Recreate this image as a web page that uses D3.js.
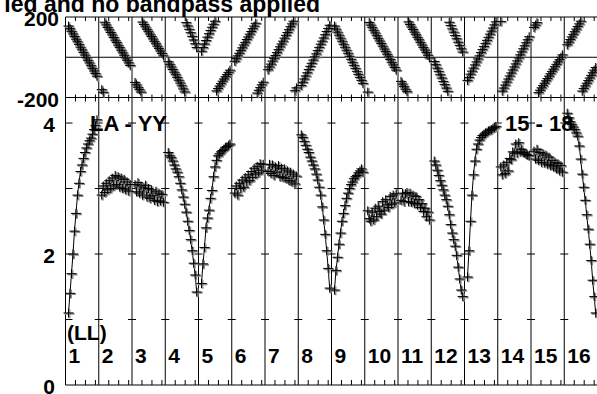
<!DOCTYPE html>
<html><head><meta charset="utf-8">
<script src="https://cdn.jsdelivr.net/npm/d3@7"></script>
<style>html,body{margin:0;padding:0;background:#fff;overflow:hidden}</style>
</head><body><svg id="c" width="597" height="394"></svg>
<script>
// ---- data ----
const channels = ["1","2","3","4","5","6","7","8","9","10","11","12","13","14","15","16"];
const times = [3.6,5.4,7.2,9.0,10.8,12.6,14.4,16.2,18.0,19.8,21.6,23.4,25.2,27.0,28.8,30.6,32.4,34.2,36.0,37.8];
const timeTicks = [12, 24, 36];
const ampTicks = [1, 2, 3, 4];
const ampTickLabels = [0, 2, 4];
const phaseTickLabels = [200, -200];
const titleText = "ied and no bandpass applied";
const baselineText = "LA - YY";
const sourceText = "15 - 18";
const polText = "(LL)";

const amp1 = [1.10,1.40,1.70,2.00,2.35,2.62,2.90,3.08,3.26,3.36,3.46,3.55,3.62,3.68,3.73,3.77,3.83,3.90,3.96,4.05];
const amp2 = [2.90,3.04,2.94,3.08,2.98,3.12,3.00,3.16,3.04,3.20,3.06,3.18,3.02,3.16,3.00,3.14,2.98,3.10,2.96,3.06];
const amp3 = [3.06,2.95,3.09,2.93,3.04,2.90,3.01,3.05,2.87,3.00,2.85,2.98,2.89,2.82,2.96,2.80,2.93,2.81,2.91,2.79];
const amp4 = [3.55,3.50,3.47,3.42,3.36,3.30,3.25,3.18,3.08,2.98,2.87,2.76,2.64,2.50,2.36,2.22,2.05,1.86,1.68,1.42];
const amp5 = [1.55,1.85,2.10,2.40,2.55,2.67,2.85,2.97,3.18,3.33,3.43,3.50,3.53,3.56,3.58,3.60,3.63,3.64,3.66,3.68];
const amp6 = [2.93,3.04,2.90,3.08,3.00,3.13,3.02,3.17,3.10,3.21,3.12,3.26,3.17,3.31,3.22,3.34,3.24,3.38,3.28,3.37];
const amp7 = [3.26,3.37,3.23,3.36,3.20,3.33,3.25,3.35,3.18,3.31,3.17,3.30,3.15,3.27,3.12,3.25,3.10,3.22,3.07,3.19];
const amp8 = [3.82,3.78,3.72,3.66,3.60,3.55,3.48,3.42,3.36,3.30,3.22,3.13,3.02,2.90,2.72,2.52,2.30,2.05,1.78,1.48];
const amp9 = [1.45,1.75,1.95,2.15,2.32,2.50,2.62,2.74,2.85,2.93,3.00,3.06,3.10,3.15,3.18,3.20,3.24,3.27,3.30,3.25];
const amp10 = [2.66,2.54,2.50,2.64,2.52,2.70,2.57,2.73,2.65,2.61,2.80,2.67,2.83,2.75,2.71,2.88,2.76,2.90,2.78,2.92];
const amp11 = [2.82,2.93,2.80,2.92,2.94,2.80,2.93,2.79,2.90,2.77,2.88,2.75,2.83,2.71,2.77,2.65,2.70,2.57,2.64,2.52];
const amp12 = [3.42,3.36,3.28,3.20,3.12,3.05,2.98,2.90,2.83,2.73,2.60,2.45,2.32,2.22,2.12,1.98,1.80,1.62,1.45,1.35];
const amp13 = [1.65,2.05,2.50,2.90,3.21,3.42,3.60,3.68,3.74,3.78,3.81,3.83,3.85,3.86,3.88,3.89,3.90,3.92,3.93,3.95];
const amp14 = [3.33,3.21,3.36,3.23,3.40,3.27,3.46,3.44,3.56,3.54,3.68,3.54,3.70,3.56,3.60,3.55,3.54,3.52,3.51,3.50];
const amp15 = [3.57,3.45,3.60,3.43,3.55,3.40,3.53,3.39,3.51,3.37,3.48,3.35,3.43,3.33,3.40,3.30,3.38,3.27,3.35,3.25];
const amp16 = [4.15,4.08,4.02,3.98,3.94,3.90,3.85,3.80,3.65,3.45,3.22,3.02,2.82,2.60,2.38,2.15,1.90,1.60,1.35,1.10];

const ph1 = [155,142,129,116,103,90,77,64,50,37,24,11,-2,-15,-28,-42,-55,-68,-81,-94];
const ph2 = [-161,-174,174,161,148,136,123,111,98,85,73,60,48,35,22,10,-3,-15,-28,-41];
const ph3 = [-125,-137,-149,-161,-173,175,163,151,139,127,115,103,91,79,67,55,43,31,19,7];
const ph4 = [-22,-35,-48,-61,-74,-87,-100,-114,-128,-142,-157,-172,172,156,139,122,104,86,67,48];
const ph5 = [30,48,66,83,100,117,133,149,164,179,-167,-155,-143,-131,-119,-108,-97,-86,-75,-64];
const ph6 = [-20,-7,7,20,34,47,61,74,88,101,115,128,142,155,169,-178,-164,-151,-137,-124];
const ph7 = [-62,-48,-34,-19,-5,9,23,38,52,66,80,95,109,123,137,152,166,179,-166,-152];
const ph8 = [-140,-124,-108,-93,-77,-61,-45,-30,-14,2,17,33,49,65,80,96,112,128,143,159];
const ph9 = [155,140,125,110,95,80,65,50,35,20,5,-10,-25,-40,-55,-70,-85,-100,-115,-130];
const ph10 = [-173,173,160,147,134,121,107,94,81,68,55,41,28,15,2,-11,-25,-38,-51,-64];
const ph11 = [-120,-133,-146,-159,-171,176,163,150,138,125,112,99,87,74,61,48,36,23,10,-3];
const ph12 = [-21,-37,-54,-70,-87,-103,-120,-136,-153,-169,174,158,141,125,108,92,75,59,42,26];
const ph13 = [-115,-100,-84,-69,-54,-38,-23,-8,7,23,38,53,69,84,99,115,130,145,161,176];
const ph14 = [178,-168,-153,-138,-123,-108,-93,-78,-63,-48,-33,-18,-3,12,27,42,57,72,87,102];
const ph15 = [148,160,172,-176,-164,-152,-141,-129,-117,-106,-94,-82,-70,-59,-47,-35,-23,-12,0,12];
const ph16 = [62,75,88,101,114,127,140,153,166,179,-168,-155,-142,-129,-116,-103,-90,-77,-64,-51];

const ampSeries = [amp1,amp2,amp3,amp4,amp5,amp6,amp7,amp8,amp9,amp10,amp11,amp12,amp13,amp14,amp15,amp16];
const phaseSeries = [ph1,ph2,ph3,ph4,ph5,ph6,ph7,ph8,ph9,ph10,ph11,ph12,ph13,ph14,ph15,ph16];

// ---- layout ----
const left = 65.5, right = 597.5;
const phTop = 17, phBot = 97.5, ampBot = 385;
const FONT = "'Liberation Sans', Arial, Helvetica, sans-serif";

const svg = d3.select("#c");
const xBand = d3.scaleBand().domain(channels).range([left, right]).paddingInner(0).paddingOuter(0);
const xTime = d3.scaleLinear().domain([0, 40]).range([0, xBand.bandwidth()]);
const yPh = d3.scaleLinear().domain([-200, 200]).range([phBot, phTop]);
const yAmp = d3.scaleLinear().domain([0, 4.39]).range([ampBot, phBot]);

const g = svg.append("g");
const stroke = "#000";

// frame lines
[phTop, phBot, ampBot, yPh(0)].forEach(y =>
  g.append("line").attr("x1", left).attr("x2", right).attr("y1", y).attr("y2", y).attr("stroke", stroke));
g.selectAll("line.sep").data(channels).join("line").attr("class","sep")
  .attr("x1", d => xBand(d)).attr("x2", d => xBand(d))
  .attr("y1", phTop).attr("y2", ampBot).attr("stroke", stroke);

channels.forEach(ch => {
  const x0 = xBand(ch);
  timeTicks.forEach(t => {
    const x = x0 + xTime(t);
    g.append("line").attr("x1", x).attr("x2", x).attr("y1", phTop).attr("y2", phTop + 4).attr("stroke", stroke);
    g.append("line").attr("x1", x).attr("x2", x).attr("y1", phBot - 3).attr("y2", phBot + 4).attr("stroke", stroke);
    g.append("line").attr("x1", x).attr("x2", x).attr("y1", ampBot - 5).attr("y2", ampBot).attr("stroke", stroke);
  });
  ampTicks.forEach(v => {
    const y = yAmp(v);
    const isLeft = ch === channels[0];
    g.append("line").attr("x1", isLeft ? x0 : x0 - 4).attr("x2", x0 + (isLeft ? 7 : 4))
      .attr("y1", y).attr("y2", y).attr("stroke", stroke);
  });
});

// texts
const txt = (s, x, y, size, anchor) => svg.append("text").text(s).attr("x", x).attr("y", y)
  .attr("font-family", FONT).attr("font-weight", "bold").attr("font-size", size)
  .attr("text-anchor", anchor || "start").attr("fill", "#000");

txt(titleText, 320, 12, 23, "end");
phaseTickLabels.forEach(v => txt(String(v), 59, yPh(v) + 9, 21, "end"));
ampTickLabels.forEach(v => txt(String(v), 55, yAmp(v) + 9, 21, "end"));
txt(baselineText, 90, 131, 22);
txt(sourceText, 505, 131, 22);
txt(polText, 67, 340, 21);
channels.forEach(ch => txt(ch, xBand(ch) + 3, 363, 21));

// data
const plus = "M-5,0H5M0,-4.5V4.5";
const line = d3.line();
const drawPlus = (pts) => {
  g.selectAll(null).data(pts).join("path").attr("d", plus)
    .attr("transform", d => `translate(${d[0] + 1},${d[1] + 0.8})`)
    .attr("stroke", "#8c8c8c").attr("stroke-width", 2).attr("fill", "none");
  g.selectAll(null).data(pts).join("path").attr("d", plus)
    .attr("transform", d => `translate(${d[0]},${d[1]})`)
    .attr("stroke", "#000").attr("stroke-width", 1).attr("fill", "none");
};
channels.forEach((ch, i) => {
  const x0 = xBand(ch);
  const amps = ampSeries[i], phs = phaseSeries[i];
  const aPts = times.map((t, k) => [x0 + xTime(t), yAmp(amps[k])]);
  const pPts = times.map((t, k) => [x0 + xTime(t), yPh(phs[k])]);
  g.append("path").attr("d", line(aPts)).attr("fill", "none").attr("stroke", stroke).attr("stroke-width", 1);
  drawPlus(aPts);
  drawPlus(pPts);
});
</script>
</body></html>
